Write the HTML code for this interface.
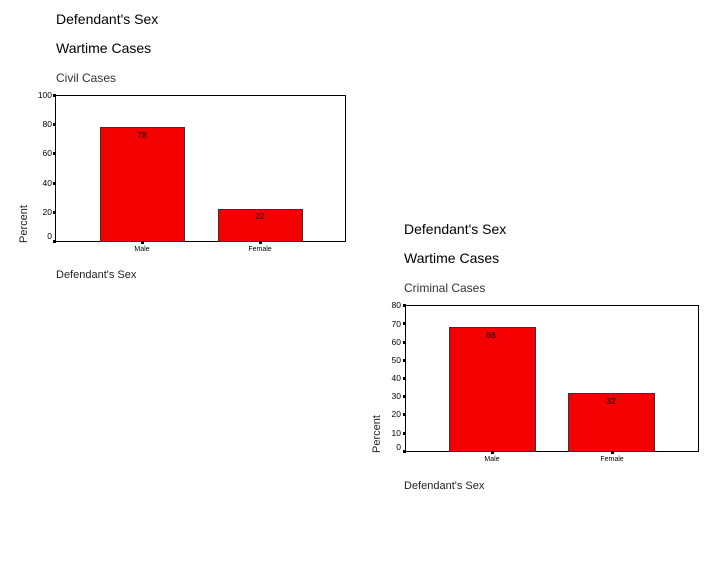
<!DOCTYPE html>
<html><head><meta charset="utf-8"><style>
html,body{margin:0;padding:0;background:#fff;}
svg{display:block;font-family:"Liberation Sans",Arial,sans-serif;}
</style></head><body>
<svg width="720" height="576" viewBox="0 0 720 576">
<!-- Chart 1 -->
<text x="56" y="24" font-size="14" fill="#000">Defendant's Sex</text>
<text x="56" y="53" font-size="14" fill="#000">Wartime Cases</text>
<text x="56" y="82" font-size="12" fill="#333">Civil Cases</text>
<rect x="55.5" y="95.5" width="290" height="146" fill="#fff" stroke="#000" stroke-width="1"/>
<rect x="100.5" y="127.5" width="84" height="114" fill="#f40000" stroke="#333" stroke-width="1"/>
<rect x="218.5" y="209.5" width="84" height="32" fill="#f40000" stroke="#333" stroke-width="1"/>
<text x="142" y="138" font-size="8.5" text-anchor="middle">78</text>
<text x="260" y="219" font-size="8.5" text-anchor="middle">22</text>
<g font-size="8.5" text-anchor="end">
<text x="52" y="98">100</text><text x="52" y="127">80</text><text x="52" y="156">60</text>
<text x="52" y="186">40</text><text x="52" y="215">20</text><text x="52" y="239">0</text>
</g>
<g fill="#000">
<rect x="53" y="94" width="3" height="3"/><rect x="53" y="123" width="3" height="3"/><rect x="53" y="152" width="3" height="3"/>
<rect x="53" y="182" width="3" height="3"/><rect x="53" y="211" width="3" height="3"/><rect x="53" y="240" width="3" height="3"/>
<rect x="141" y="241" width="3" height="3"/><rect x="259" y="241" width="3" height="3"/>
</g>
<text x="142" y="251" font-size="7" text-anchor="middle">Male</text>
<text x="260" y="251" font-size="7" text-anchor="middle">Female</text>
<text transform="translate(27,224) rotate(-90)" font-size="11" text-anchor="middle" fill="#222">Percent</text>
<text x="56" y="278" font-size="11" fill="#222">Defendant's Sex</text>

<!-- Chart 2 -->
<text x="404" y="234" font-size="14" fill="#000">Defendant's Sex</text>
<text x="404" y="263" font-size="14" fill="#000">Wartime Cases</text>
<text x="404" y="292" font-size="12" fill="#333">Criminal Cases</text>
<rect x="405.5" y="305.5" width="293" height="146" fill="#fff" stroke="#000" stroke-width="1"/>
<rect x="449.5" y="327.5" width="86" height="124" fill="#f40000" stroke="#333" stroke-width="1"/>
<rect x="568.5" y="393.5" width="86" height="58" fill="#f40000" stroke="#333" stroke-width="1"/>
<text x="491" y="338" font-size="8.5" text-anchor="middle">68</text>
<text x="611" y="404" font-size="8.5" text-anchor="middle">32</text>
<g font-size="8.5" text-anchor="end">
<text x="401" y="308">80</text><text x="401" y="327">70</text><text x="401" y="345">60</text>
<text x="401" y="363">50</text><text x="401" y="381">40</text><text x="401" y="399">30</text>
<text x="401" y="417">20</text><text x="401" y="436">10</text><text x="401" y="450">0</text>
</g>
<g fill="#000">
<rect x="403" y="304" width="3" height="3"/><rect x="403" y="322" width="3" height="3"/><rect x="403" y="341" width="3" height="3"/>
<rect x="403" y="359" width="3" height="3"/><rect x="403" y="377" width="3" height="3"/><rect x="403" y="395" width="3" height="3"/>
<rect x="403" y="413" width="3" height="3"/><rect x="403" y="432" width="3" height="3"/><rect x="403" y="450" width="3" height="3"/>
<rect x="491" y="451" width="3" height="3"/><rect x="611" y="451" width="3" height="3"/>
</g>
<text x="492" y="461" font-size="7" text-anchor="middle">Male</text>
<text x="612" y="461" font-size="7" text-anchor="middle">Female</text>
<text transform="translate(380,434) rotate(-90)" font-size="11" text-anchor="middle" fill="#222">Percent</text>
<text x="404" y="489" font-size="11" fill="#222">Defendant's Sex</text>
</svg>
</body></html>
